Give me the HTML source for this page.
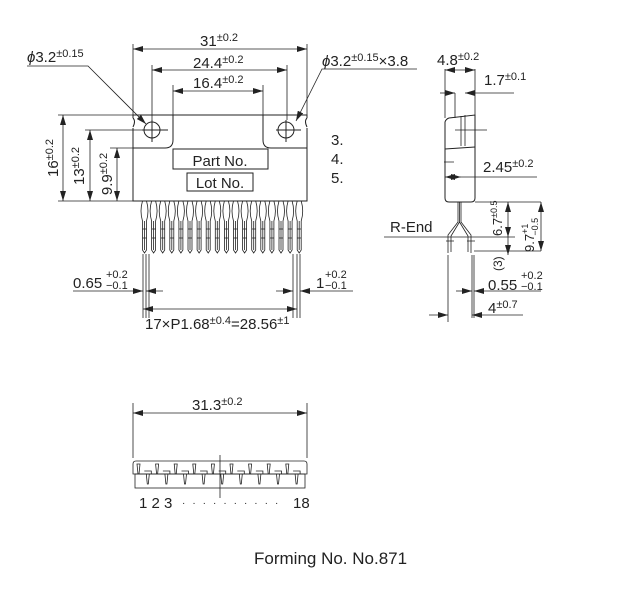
<!DOCTYPE html>
<html><head><meta charset="utf-8"><style>
html,body{margin:0;padding:0;background:#fff}
svg{display:block}
text{font-family:"Liberation Sans",sans-serif;fill:#222}
</style></head><body>
<svg id="s" width="632" height="615" viewBox="0 0 632 615" xmlns="http://www.w3.org/2000/svg" stroke="#222" stroke-width="1" fill="none">
<defs>
<marker id="a" viewBox="0 0 10 6" refX="10" refY="3" markerWidth="10" markerHeight="6" orient="auto-start-reverse" markerUnits="userSpaceOnUse"><path d="M0,0L10,3L0,6z" fill="#222" stroke="none"/></marker>
</defs>
<path d="M133,118 L133,115 L307,115 L307,118 M133,128 L133,201 L307,201 L307,128"/>
<path d="M133,118 Q136,121 133,127 M307,118 Q304,121 307,127"/>
<path d="M173,115 L173,140 Q173,148 165,148 L133,148 M263,115 L263,140 Q263,148 271,148 L307,148"/>
<circle cx="152" cy="130" r="8"/><path d="M142,130H168M152,120V142"/>
<circle cx="286" cy="130" r="8"/><path d="M276,130H301M286,120V142"/>
<rect x="173" y="149" width="95" height="20"/>
<rect x="187" y="173" width="66" height="18"/>
<text x="220" y="166" font-size="15" text-anchor="middle" stroke="none">Part No.</text>
<text x="220" y="188" font-size="15" text-anchor="middle" stroke="none">Lot No.</text>
<g id="leads" stroke-width="0.8"></g>
<g stroke-width="0.8">
<path d="M133,115V44M307,115V44M152,120V65M287,120V65M173,115V85M263,115V85"/>
<path d="M133,49H307" marker-start="url(#a)" marker-end="url(#a)"/>
<path d="M152,70H287" marker-start="url(#a)" marker-end="url(#a)"/>
<path d="M173,91H263" marker-start="url(#a)" marker-end="url(#a)"/>
<path d="M58,115H133M85,130H150M110,148H133M58,201H133"/>
<path d="M63,115V201" marker-start="url(#a)" marker-end="url(#a)"/>
<path d="M90,130V201" marker-start="url(#a)" marker-end="url(#a)"/>
<path d="M117,148V201" marker-start="url(#a)" marker-end="url(#a)"/>
<path d="M27,66H88L146,124" marker-end="url(#a)"/>
<path d="M417,69H322L296,121" marker-end="url(#a)"/>
<path d="M143,254V318M146,254V318M149,254V318M293,254V318M297,254V318M300,254V318"/>
<path d="M73,291H143" marker-end="url(#a)"/><path d="M163,291H146" marker-end="url(#a)"/>
<path d="M276,291H293" marker-end="url(#a)"/><path d="M353,291H300" marker-end="url(#a)"/>
<path d="M143,309H297" marker-start="url(#a)" marker-end="url(#a)"/>
</g>
<g font-size="15" stroke="none">
<text x="200" y="46">31<tspan font-size="11" dy="-5">±0.2</tspan></text>
<text x="193" y="68">24.4<tspan font-size="11" dy="-5">±0.2</tspan></text>
<text x="193" y="88">16.4<tspan font-size="11" dy="-5">±0.2</tspan></text>
<text x="27" y="62"><tspan font-style="italic">ϕ</tspan>3.2<tspan font-size="11" dy="-5">±0.15</tspan></text>
<text x="322" y="66"><tspan font-style="italic">ϕ</tspan>3.2<tspan font-size="11" dy="-5">±0.15</tspan><tspan dy="5">×3.8</tspan></text>
<text transform="translate(58,158) rotate(-90)" text-anchor="middle">16<tspan font-size="11" dy="-5">±0.2</tspan></text>
<text transform="translate(84,166) rotate(-90)" text-anchor="middle">13<tspan font-size="11" dy="-5">±0.2</tspan></text>
<text transform="translate(112,174) rotate(-90)" text-anchor="middle">9.9<tspan font-size="11" dy="-5">±0.2</tspan></text>
<text x="331" y="145">3.</text><text x="331" y="164">4.</text><text x="331" y="183">5.</text>
<text x="73" y="288">0.65</text><text x="106" y="278" font-size="11">+0.2</text><text x="106" y="289" font-size="11">−0.1</text>
<text x="316" y="288">1</text><text x="325" y="278" font-size="11">+0.2</text><text x="325" y="289" font-size="11">−0.1</text>
<text x="145" y="329">17×P1.68<tspan font-size="11" dy="-5">±0.4</tspan><tspan dy="5">=28.56</tspan><tspan font-size="11" dy="-5">±1</tspan></text>
</g>
<path d="M445,122 Q446,119 449,118 L475,115 L475,198 Q475,202 471,202 L449,202 Q445,202 445,198 Z"/>
<path d="M445,149 L475,147"/>
<path d="M465,115V146M455,130H487" stroke-width="0.8"/>
<path d="M458,202V222 L448,235 L448,253 M461,202V222 L471,235 L471,253 M459.5,202V222 M459.5,222 L451,236 V252 M459.5,222 L468,236 V252 M446,241 H454 M467,241H475" stroke-width="0.8"/>
<g stroke-width="0.8">
<path d="M445,118V69M475,115V69M455,93V118M461,146V116M384,237H515M472,255V318M474,255V318M448,255V322"/>
<path d="M475,202H541M474,251H541M454,162H444"/>
<path d="M445,70H475" marker-start="url(#a)" marker-end="url(#a)"/>
<path d="M440,93H455" marker-end="url(#a)"/><path d="M514,93H465" marker-end="url(#a)"/>
<path d="M445,177H461" marker-start="url(#a)" marker-end="url(#a)"/><path d="M537,177H461"/>
<path d="M508,202V237" marker-start="url(#a)" marker-end="url(#a)"/>
<path d="M508,237V255" marker-end="url(#a)"/>
<path d="M541,202V251" marker-start="url(#a)" marker-end="url(#a)"/>
<path d="M456,291H472" marker-end="url(#a)"/><path d="M541,291H474" marker-end="url(#a)"/>
<path d="M429,315H448" marker-end="url(#a)"/><path d="M523,315H472" marker-end="url(#a)"/>
</g>
<g font-size="15" stroke="none">
<text x="437" y="65">4.8<tspan font-size="11" dy="-5">±0.2</tspan></text>
<text x="484" y="85">1.7<tspan font-size="11" dy="-5">±0.1</tspan></text>
<text x="483" y="172">2.45<tspan font-size="11" dy="-5">±0.2</tspan></text>
<text x="390" y="232">R-End</text>
<text transform="translate(502,236) rotate(-90)" font-size="13">6.7<tspan font-size="9" dy="-5">±0.5</tspan></text>
<text transform="translate(534,252) rotate(-90)" font-size="13">9.7<tspan font-size="9" dy="-6">+1</tspan><tspan font-size="9" dx="-12" dy="10">−0.5</tspan></text>
<text transform="translate(502,271) rotate(-90)" font-size="12">(3)</text>
<text x="488" y="290">0.55</text><text x="521" y="279" font-size="11">+0.2</text><text x="521" y="290" font-size="11">−0.1</text>
<text x="488" y="313">4<tspan font-size="11" dy="-5">±0.7</tspan></text>
</g>
<g stroke-width="0.8">
<path d="M133,458V403M307,458V403"/>
<path d="M133,413H307" marker-start="url(#a)" marker-end="url(#a)"/>
<path d="M136,461H304Q307,461 307,464V474H133V464Q133,461 136,461Z"/>
<rect x="135" y="474" width="170" height="14"/>
<path d="M220,455V498"/>
<g id="bv"></g>
</g>
<g font-size="15" stroke="none">
<text x="192" y="410">31.3<tspan font-size="11" dy="-5">±0.2</tspan></text>
<text x="139" y="508">1 2 3</text>
<text x="182" y="506" font-size="10" letter-spacing="7">··········</text>
<text x="293" y="508">18</text>
<text x="254" y="564" font-size="17">Forming No.  No.871</text>
</g>
</svg>
<script>
var ns="http://www.w3.org/2000/svg",g=document.getElementById('leads'),b=document.getElementById('bv');
function p(par,d){var e=document.createElementNS(ns,'path');e.setAttribute('d',d);par.appendChild(e);}
for(var i=0;i<18;i++){var x=144.5+i*9.1;
p(g,'M'+(x-2)+',201 Q'+(x-5)+',211 '+(x-2)+',221 L'+(x-2)+',250 L'+x+',253 L'+(x+2)+',250 L'+(x+2)+',221 Q'+(x+5)+',211 '+(x+2)+',201');
p(g,'M'+x+',221V250M'+(x-2)+',229H'+(x+2)+'M'+(x-2)+',238H'+(x+2));
var bx=136+i*9.3;
if(i%2==0)p(b,'M'+(bx+2)+',474L'+(bx+1)+',464H'+(bx+4)+'L'+(bx+3)+',474');
else p(b,'M'+(bx-1)+',471H'+(bx+6)+'V474M'+(bx+1)+',474L'+(bx+2)+',484H'+(bx+3)+'L'+(bx+4)+',474');}
</script>
</body></html>
